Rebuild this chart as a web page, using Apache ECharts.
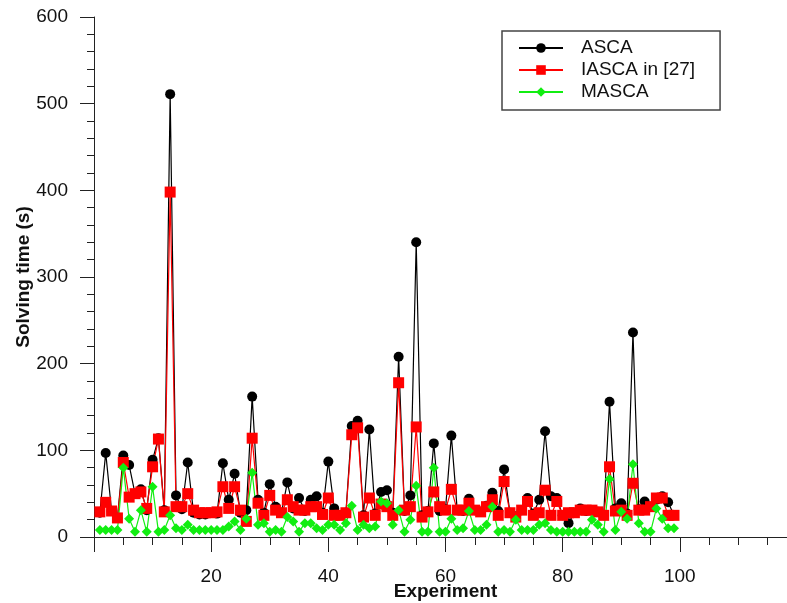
<!DOCTYPE html>
<html>
<head>
<meta charset="utf-8">
<script src="https://cdn.jsdelivr.net/npm/echarts@6/dist/echarts.min.js"></script>
<style>
html,body{margin:0;padding:0;background:#fff;}
#chart{width:787px;height:603px;}
</style>
</head>
<body>
<div id="chart"></div>
<script>
const experiments = Array.from({length: 99}, (_, k) => k + 1);
const asca = [28,97,30,22,94,83,50,55,31,89,114,31,511,48,32,86,28,26,26,28,
  27,85,43,73,28,31,162,43,28,61,35,28,63,33,45,30,43,47,28,87,
  33,25,28,128,134,25,124,27,52,54,28,208,30,48,340,25,30,108,30,32,
  117,31,30,44,31,29,36,51,30,78,28,24,31,45,27,43,122,47,45,25,
  16,28,33,30,31,29,25,156,33,39,27,236,32,41,35,43,47,40,25];
const iasca = [29,40,30,22,86,46,50,52,33,81,113,29,398,35,35,50,31,28,28,28,
  29,58,33,58,31,18,114,39,25,48,31,28,43,35,31,31,35,35,26,45,
  25,25,28,118,126,23,45,25,38,35,25,178,31,35,127,23,29,52,35,31,
  55,31,31,39,31,29,35,43,25,64,28,23,31,41,25,28,54,25,41,25,
  28,28,31,31,31,29,25,81,30,31,25,62,31,31,35,45,45,25,25];
const masca = [8,8,8,8,80,21,6,31,6,58,6,8,25,10,8,14,8,8,8,8,
  8,8,12,18,8,21,74,14,16,6,8,6,23,18,6,16,16,10,8,14,
  14,8,16,36,8,14,10,12,41,39,14,31,6,20,59,6,6,80,6,6,
  21,8,10,30,8,8,14,35,6,8,6,20,8,8,8,14,16,8,6,6,
  6,6,6,6,20,14,6,67,8,29,21,84,16,6,6,33,21,10,10];
const seriesNames = ['ASCA', 'IASCA in [27]', 'MASCA'];
const xTickLabels = [20, 40, 60, 80, 100];
const yTickLabels = [0, 100, 200, 300, 400, 500, 600];

const pair = arr => experiments.map((x, k) => [x, arr[k]]);
const font = 'Liberation Sans, Arial, Helvetica, sans-serif';

const chart = echarts.init(document.getElementById('chart'), null, {renderer: 'canvas'});
chart.setOption({
  animation: false,
  backgroundColor: '#fff',
  grid: {left: 94, width: 703, top: 17, height: 520, containLabel: false, outerBoundsMode: 'none'},
  legend: {
    left: 502, top: 31, orient: 'vertical',
    padding: [7, 25, 8, 16],
    borderColor: '#444', borderWidth: 1.5,
    itemWidth: 44, itemHeight: 12, itemGap: 2,
    textStyle: {fontFamily: font, fontSize: 19, color: '#111', lineHeight: 20, padding: [0, 0, 0, 13]},
    data: seriesNames
  },
  xAxis: {
    type: 'value', min: 0, max: 120, interval: 20,
    name: 'Experiment', nameLocation: 'middle', nameGap: 45, nameMoveOverlap: false,
    nameTextStyle: {fontFamily: font, fontSize: 19, fontWeight: 'bold', color: '#111'},
    axisLine: {show: true, lineStyle: {color: '#222', width: 1}},
    axisTick: {show: true, length: 15, lineStyle: {color: '#222'}},
    minorTick: {show: true, splitNumber: 4, length: 8, lineStyle: {color: '#222'}},
    splitLine: {show: false},
    axisLabel: {
      fontFamily: font, fontSize: 19, color: '#111', margin: 30,
      formatter: v => xTickLabels.includes(v) ? String(v) : ''
    }
  },
  yAxis: {
    type: 'value', min: 0, max: 600, interval: 100,
    name: 'Solving time (s)', nameLocation: 'middle', nameGap: 61, nameRotate: 90, nameMoveOverlap: false,
    nameTextStyle: {fontFamily: font, fontSize: 19, fontWeight: 'bold', color: '#111'},
    axisLine: {show: true, lineStyle: {color: '#222', width: 1}},
    axisTick: {show: true, length: 14, lineStyle: {color: '#222'}},
    minorTick: {show: true, splitNumber: 5, length: 7, lineStyle: {color: '#222'}},
    splitLine: {show: false},
    axisLabel: {
      fontFamily: font, fontSize: 19, color: '#111', margin: 26,
      formatter: v => yTickLabels.includes(v) ? String(v) : ''
    }
  },
  series: [
    {
      name: seriesNames[0], type: 'line', data: pair(asca),
      symbol: 'circle', symbolSize: 10,
      lineStyle: {color: '#000', width: 1.2}, itemStyle: {color: '#000'}
    },
    {
      name: seriesNames[1], type: 'line', data: pair(iasca),
      symbol: 'rect', symbolSize: 11,
      lineStyle: {color: '#ff0000', width: 1.2}, itemStyle: {color: '#ff0000'}
    },
    {
      name: seriesNames[2], type: 'line', data: pair(masca),
      symbol: 'diamond', symbolSize: 10,
      lineStyle: {color: '#11ee11', width: 1.2}, itemStyle: {color: '#11ee11'}
    }
  ]
});
</script>
</body>
</html>
